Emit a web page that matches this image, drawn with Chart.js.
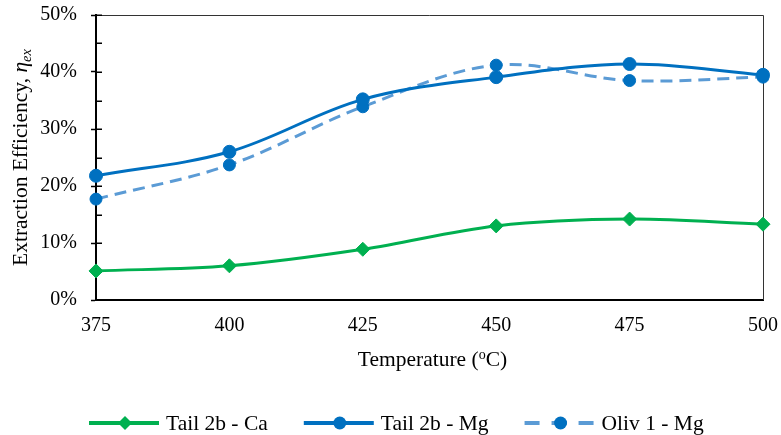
<!DOCTYPE html>
<html>
<head>
<meta charset="utf-8">
<script src="https://cdn.jsdelivr.net/npm/chart.js@4"></script>
<style>
  html, body { margin: 0; padding: 0; background: #fff; }
  #c { display: block; }
</style>
</head>
<body>
<canvas id="c" width="781" height="435"></canvas>
<script>
// Extraction efficiency (%) versus temperature (°C)
const temperatures = ['375', '400', '425', '450', '475', '500'];
const tail2bCa = [5.1, 6.0, 8.9, 13.0, 14.2, 13.3];
const tail2bMg = [21.8, 26.0, 35.2, 39.1, 41.4, 39.5];
const oliv1Mg  = [17.7, 23.7, 33.9, 41.2, 38.5, 39.1];
const seriesNames = ['Tail 2b - Ca', 'Tail 2b - Mg', 'Oliv 1 - Mg'];
const yMin = 0, yMax = 50, yStep = 10, yMinorStep = 5;

const SERIF = '"Liberation Serif", "Times New Roman", serif';
const LABEL_SIZE = 21.5;
const GREEN = '#00B050';
const BLUE = '#0070C0';
const LIGHT_BLUE = '#5B9BD5';

// Frame: thin top/right border plus inward tick marks on the value axis
const framePlugin = {
  id: 'frame',
  beforeDatasetsDraw(chart) {
    const { ctx, chartArea: a, scales: { y } } = chart;
    ctx.save();
    ctx.strokeStyle = '#333';
    ctx.lineWidth = 1;
    ctx.beginPath();
    ctx.moveTo(a.left, a.top + 0.5);
    ctx.lineTo(a.right + 0.5, a.top + 0.5);
    ctx.lineTo(a.right + 0.5, a.bottom);
    ctx.stroke();
    ctx.strokeStyle = '#000';
    ctx.lineWidth = 1.5;
    ctx.beginPath();
    for (let v = yMin; v <= yMax; v += yMinorStep) {
      const py = Math.round(y.getPixelForValue(v)) + 0.25;
      ctx.moveTo(a.left, py);
      ctx.lineTo(a.left + 6, py);
    }
    ctx.stroke();
    ctx.restore();
  }
};

// Axis titles and the legend row along the bottom
const labelsPlugin = {
  id: 'labels',
  afterDraw(chart) {
    const { ctx, chartArea: a } = chart;
    const f = (s, it) => (it ? 'italic ' : '') + s + 'px ' + SERIF;
    ctx.save();
    ctx.fillStyle = '#000';

    // value-axis title, rotated, with italic eta and subscript
    const mainText = 'Extraction Efficiency, ';
    ctx.font = f(LABEL_SIZE);
    const w1 = ctx.measureText(mainText).width;
    ctx.font = f(LABEL_SIZE, true);
    const w2 = ctx.measureText('\u03B7').width;
    ctx.font = f(14.5, true);
    const w3 = ctx.measureText('ex').width;
    const total = w1 + w2 + w3;
    ctx.save();
    ctx.translate(27, (a.top + a.bottom) / 2);
    ctx.rotate(-Math.PI / 2);
    ctx.textBaseline = 'alphabetic';
    ctx.textAlign = 'left';
    let x0 = -total / 2;
    ctx.font = f(LABEL_SIZE);
    ctx.fillText(mainText, x0, 0);
    x0 += w1;
    ctx.font = f(LABEL_SIZE, true);
    ctx.fillText('\u03B7', x0, 0);
    x0 += w2;
    ctx.font = f(14.5, true);
    ctx.fillText('ex', x0, 4);
    ctx.restore();

    // category-axis title with superscript degree mark
    const t1 = 'Temperature (', t2 = 'o', t3 = 'C)';
    ctx.font = f(LABEL_SIZE);
    const a1 = ctx.measureText(t1).width, a3 = ctx.measureText(t3).width;
    ctx.font = f(14);
    const a2 = ctx.measureText(t2).width;
    let tx = (a.left + a.right) / 2 + 3 - (a1 + a2 + a3) / 2;
    const ty = 366;
    ctx.textBaseline = 'alphabetic';
    ctx.textAlign = 'left';
    ctx.font = f(LABEL_SIZE);
    ctx.fillText(t1, tx, ty);
    tx += a1;
    ctx.font = f(14);
    ctx.fillText(t2, tx, ty - 7);
    tx += a2;
    ctx.font = f(LABEL_SIZE);
    ctx.fillText(t3, tx, ty);

    // legend
    const ly = 423;
    const lineLen = 70, gapText = 7, gapItem = 36;
    ctx.font = f(LABEL_SIZE);
    const widths = seriesNames.map(n => ctx.measureText(n).width);
    let lx = 89;
    chart.data.datasets.forEach((ds, i) => {
      ctx.save();
      ctx.strokeStyle = ds.borderColor;
      ctx.lineWidth = 4;
      ctx.setLineDash(ds.borderDash && ds.borderDash.length ? [15, 12] : []);
      ctx.beginPath();
      ctx.moveTo(lx, ly);
      ctx.lineTo(lx + lineLen, ly);
      ctx.stroke();
      ctx.setLineDash([]);
      const cx = lx + lineLen / 2 + 1;
      ctx.fillStyle = ds.pointBackgroundColor;
      ctx.beginPath();
      if (ds.pointStyle === 'rectRot') {
        const r = 7;
        ctx.moveTo(cx - r, ly); ctx.lineTo(cx, ly - r);
        ctx.lineTo(cx + r, ly); ctx.lineTo(cx, ly + r);
        ctx.closePath();
      } else {
        ctx.arc(cx, ly, 6.5, 0, Math.PI * 2);
      }
      ctx.fill();
      ctx.restore();
      ctx.fillStyle = '#000';
      ctx.textBaseline = 'middle';
      ctx.textAlign = 'left';
      ctx.fillText(ds.label, lx + lineLen + gapText, ly + 1);
      lx += lineLen + gapText + widths[i] + gapItem;
    });
    ctx.restore();
  }
};

new Chart(document.getElementById('c'), {
  type: 'line',
  data: {
    labels: temperatures,
    datasets: [
      {
        label: seriesNames[0],
        data: tail2bCa,
        borderColor: GREEN,
        backgroundColor: GREEN,
        pointBackgroundColor: GREEN,
        pointBorderColor: GREEN,
        borderWidth: 3,
        pointStyle: 'rectRot',
        pointRadius: 7,
        pointBorderWidth: 1,
        tension: 0.35,
        clip: false
      },
      {
        label: seriesNames[1],
        data: tail2bMg,
        borderColor: BLUE,
        backgroundColor: BLUE,
        pointBackgroundColor: BLUE,
        pointBorderColor: BLUE,
        borderWidth: 3,
        pointStyle: 'circle',
        pointRadius: 6.5,
        pointBorderWidth: 1,
        tension: 0.35,
        clip: false
      },
      {
        label: seriesNames[2],
        data: oliv1Mg,
        borderColor: LIGHT_BLUE,
        backgroundColor: BLUE,
        pointBackgroundColor: BLUE,
        pointBorderColor: BLUE,
        borderWidth: 3,
        borderDash: [12, 7],
        pointStyle: 'circle',
        pointRadius: 6,
        pointBorderWidth: 1,
        tension: 0.35,
        clip: false
      }
    ]
  },
  options: {
    responsive: false,
    animation: false,
    devicePixelRatio: 1,
    layout: { padding: { left: 0, right: 18, top: 15, bottom: 0 } },
    plugins: {
      legend: { display: false },
      tooltip: { enabled: false },
      title: { display: false }
    },
    scales: {
      x: {
        type: 'category',
        offset: false,
        grid: { display: false, drawTicks: false },
        border: { display: true, color: '#000', width: 2 },
        ticks: {
          color: '#000',
          font: { family: SERIF, size: 20 },
          padding: 14,
          maxRotation: 0,
          autoSkip: false
        },
        afterFit(scale) {
          scale.height = 135;
          scale.paddingLeft = 0;
          scale.paddingRight = 0;
        }
      },
      y: {
        min: yMin,
        max: yMax,
        grid: {
          display: true,
          drawOnChartArea: false,
          drawTicks: true,
          tickLength: 5,
          tickColor: '#000',
          tickWidth: 1.5
        },
        border: { display: true, color: '#000', width: 2 },
        ticks: {
          stepSize: yStep,
          color: '#000',
          font: { family: SERIF, size: 20 },
          padding: 14,
          callback: v => v + '%'
        },
        afterFit(scale) {
          scale.width = 96;
          scale.paddingTop = 0;
          scale.paddingBottom = 0;
        }
      }
    }
  },
  plugins: [framePlugin, labelsPlugin]
});
</script>
</body>
</html>
